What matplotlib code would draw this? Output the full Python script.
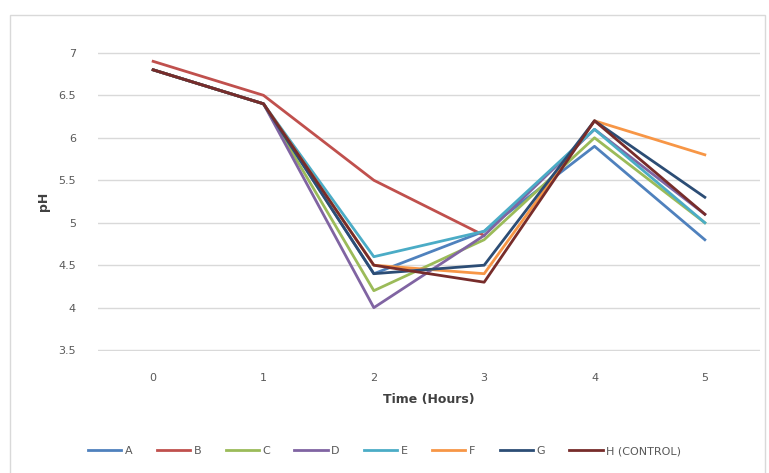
import numpy as np
import matplotlib.pyplot as plt
from matplotlib.patches import Rectangle

plt.rcParams["font.family"] = "DejaVu Sans"

# data
hours = ["0", "1", "2", "3", "4", "5"]
names = ["A", "B", "C", "D", "E", "F", "G", "H (CONTROL)"]
ph_a = [6.8, 6.4, 4.4, 4.9, 5.9, 4.8]
ph_b = [6.9, 6.5, 5.5, 4.85, np.nan, np.nan]
ph_c = [6.8, 6.4, 4.2, 4.8, 6.0, 5.0]
ph_d = [6.8, 6.4, 4.0, 4.85, 6.1, 5.1]
ph_e = [6.8, 6.4, 4.6, 4.9, 6.1, 5.0]
ph_f = [6.8, 6.4, 4.5, 4.4, 6.2, 5.8]
ph_g = [6.8, 6.4, 4.4, 4.5, 6.2, 5.3]
ph_h = [6.8, 6.4, 4.5, 4.3, 6.2, 5.1]
series = [ph_a, ph_b, ph_c, ph_d, ph_e, ph_f, ph_g, ph_h]
colors = ["#4F81BD", "#C0504D", "#9BBB59", "#8064A2",
          "#4BACC6", "#F79646", "#2C4D75", "#772C2A"]

fig = plt.figure(figsize=(7.69, 4.73), dpi=100)
ax = fig.add_axes([98 / 769, 1 - 351 / 473, 662 / 769, 299 / 473])

# chart frame
fig.patches.append(Rectangle((10 / 769, -5 / 473), 755 / 769, 463 / 473,
                             transform=fig.transFigure, fill=False,
                             edgecolor="#D9D9D9", linewidth=1.0))

x = np.arange(len(hours))
for vals, name, col in zip(series, names, colors):
    ax.plot(x, vals, color=col, linewidth=2.0, label=name)

ax.set_xlim(-0.5, 5.5)
ax.set_ylim(3.49, 7.01)
ax.set_xticks(x)
ax.set_xticklabels(hours)
ax.set_yticks([3.5, 4, 4.5, 5, 5.5, 6, 6.5, 7])
ax.set_yticklabels(["3.5", "4", "4.5", "5", "5.5", "6", "6.5", "7"])
ax.tick_params(length=0, labelsize=8, colors="#595959")
ax.tick_params(axis="x", pad=16)
ax.tick_params(axis="y", pad=16)
ax.grid(axis="y", color="#D9D9D9", linewidth=1.0)
ax.set_axisbelow(True)
for s in ax.spines.values():
    s.set_visible(False)

ax.set_xlabel("Time (Hours)", fontsize=9, fontweight="bold", color="#404040", labelpad=7)
ax.set_ylabel("pH", fontsize=9, fontweight="bold", color="#404040", labelpad=6)

fig.legend(loc="center", bbox_to_anchor=(0.5, 1 - 451 / 473), ncol=8,
           frameon=False, fontsize=8, handlelength=3.0, handletextpad=0.3,
           columnspacing=2.2, labelcolor="#595959")

fig.savefig("out.png", dpi=100)
